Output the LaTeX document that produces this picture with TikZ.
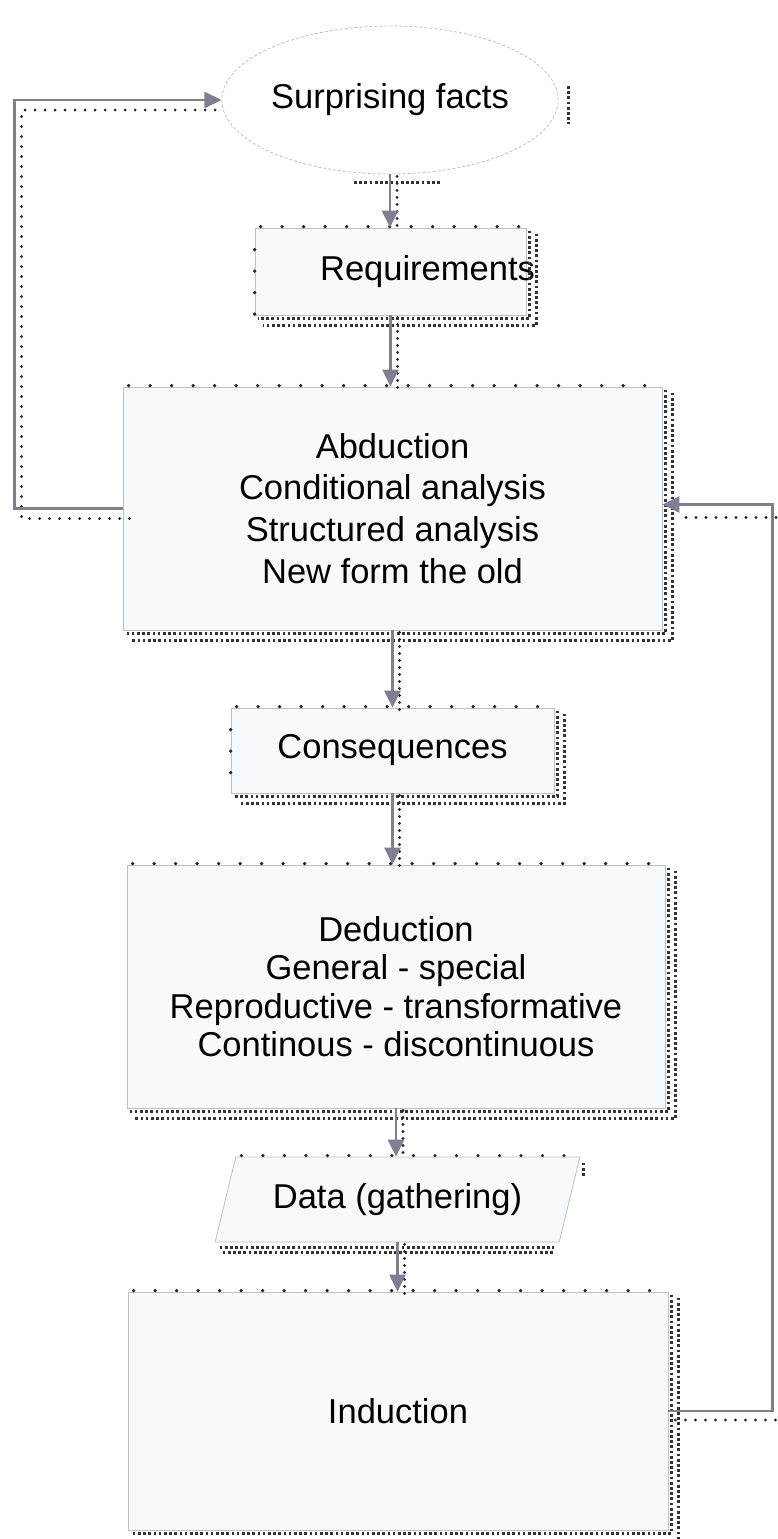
\documentclass[tikz,border=0pt]{standalone}
\usepackage{fontspec}
\setmainfont{Liberation Sans}
\usetikzlibrary{arrows.meta,shapes.geometric}
\definecolor{linegray}{HTML}{7E8090}
\definecolor{edgegray}{HTML}{BEC0C8}
\definecolor{boxfill}{HTML}{F8F9FB}

\begin{document}
\begin{tikzpicture}[
  x=1pt,y=-1pt,
  txt/.style={font=\fontsize{34.5}{41.7}\selectfont},
  box/.style={draw=edgegray,line width=0.8pt,fill=boxfill,rectangle,align=center,inner sep=0pt,txt},
  arr/.style={draw=linegray,line width=2.4pt,-{Triangle[length=17pt,width=16pt]}},
  topdots/.style={line width=3.6pt,line cap=round,dash pattern=on 0pt off 21.5pt,black!85},
  banddots/.style={line width=2.7pt,dash pattern=on 2.7pt off 2.5pt,black!80},
  loopdots/.style={line width=3.2pt,line cap=round,dash pattern=on 0pt off 10pt,black!85}
]
\useasboundingbox (0,0) rectangle (778,1539);

% Column of steps
\node[ellipse,draw=edgegray,densely dashed,line width=0.8pt,minimum width=276pt,minimum height=148pt,inner sep=0pt,txt] (sf) at (390,100) {Surprising facts};
\node[box,minimum width=271pt,minimum height=87pt,label={[txt,xshift=37pt]center:Requirements}] (req) at (390.5,271.5) {};
\node[box,minimum width=539pt,minimum height=243pt] (abd) at (392.5,508.5) {Abduction\\Conditional analysis\\Structured analysis\\New form the old};
\node[box,minimum width=323pt,minimum height=85pt] (con) at (392.5,750.5) {Consequences};
\node[box,minimum width=538pt,minimum height=243pt,font=\fontsize{34.5}{38.5}\selectfont] (ded) at (396,986.5) {Deduction\\General - special\\Reproductive - transformative\\Continous - discontinuous};
\node[trapezium,trapezium left angle=63.7,trapezium right angle=116.3,trapezium stretches=true,draw=edgegray,line width=0.8pt,fill=boxfill,minimum width=365pt,minimum height=85pt,inner sep=0pt,txt] (dat) at (397.5,1199.5) {Data (gathering)};
\node[box,minimum width=540pt,minimum height=238pt] (ind) at (398,1411) {Induction};

% dotted shadows
\foreach \n in {req,abd,con,ded,ind}{
  \draw[topdots] ([xshift=6pt,yshift=1pt]\n.north west) -- ([yshift=1pt]\n.north east);
  \draw[banddots] ([xshift=3pt,yshift=-3pt]\n.north east) -- ([xshift=3pt,yshift=-3pt]\n.south east) -- ([xshift=3pt,yshift=-3pt]\n.south west);
  \draw[banddots] ([xshift=10pt,yshift=-6pt]\n.north east) -- ([xshift=10pt,yshift=-10pt]\n.south east) -- ([xshift=8pt,yshift=-10pt]\n.south west);
}
\foreach \n in {req,con}
  \draw[topdots] ([yshift=-22pt]\n.north west) -- (\n.south west);
\draw[topdots] ([xshift=6pt,yshift=1pt]dat.top left corner) -- ([yshift=1pt]dat.top right corner);
\draw[banddots] ([xshift=5pt,yshift=-5pt]dat.bottom left corner) -- ([xshift=-6pt,yshift=-5pt]dat.bottom right corner);
\draw[banddots] ([xshift=8pt,yshift=-10pt]dat.bottom left corner) -- ([xshift=-6pt,yshift=-10pt]dat.bottom right corner);
\draw[banddots] ([xshift=3pt,yshift=-6pt]dat.top right corner) -- ([xshift=3pt,yshift=-20pt]dat.top right corner);
\draw[banddots] ([xshift=-36pt,yshift=-8pt]sf.south) -- ([xshift=52pt,yshift=-8pt]sf.south);
\draw[banddots] ([xshift=10pt,yshift=14pt]sf.east) -- ([xshift=10pt,yshift=-24pt]sf.east);

% flow down
\foreach \a/\b in {sf/req,req/abd,abd/con,con/ded,ded/dat,dat/ind}{
  \draw[loopdots,dash pattern=on 0pt off 7pt,transform canvas={shift={(7pt,-2pt)}}] (\a.south) -- (\b.north -| \a.south);
  \draw[arr] (\a.south) -- (\b.north -| \a.south);
}

% feedback loops
\draw[loopdots,transform canvas={shift={(7pt,-10pt)}}] (abd.west) -- ++(-108,0) |- ([xshift=-6pt]sf.west);
\draw[arr] (abd.west) -- ++(-108,0) |- (sf.west);
\draw[loopdots,transform canvas={shift={(7pt,-9pt)}}] (ind.east) -- ++(104,0) |- ([xshift=10pt]abd.east);
\draw[arr] (ind.east) -- ++(104,0) |- ([yshift=4pt]abd.east);
\end{tikzpicture}
\end{document}
